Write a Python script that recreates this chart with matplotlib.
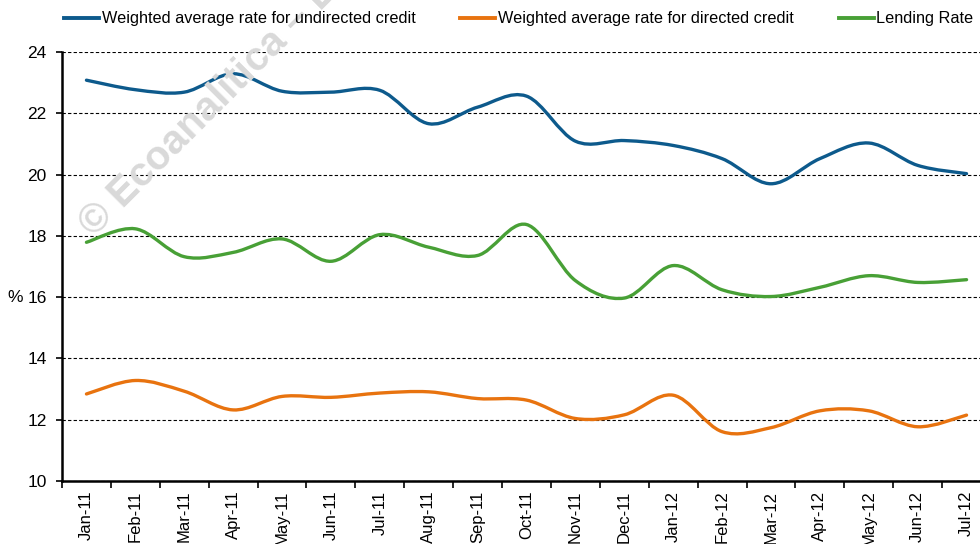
import numpy as np
import matplotlib
matplotlib.use('Agg')
import matplotlib.pyplot as plt
from matplotlib.path import Path
from matplotlib.patches import PathPatch
from matplotlib.lines import Line2D

plt.rcParams['font.family'] = ['Liberation Sans', 'DejaVu Sans']

# ── Data ─────────────────────────────────────────────────────────────────
months = ['Jan-11', 'Feb-11', 'Mar-11', 'Apr-11', 'May-11', 'Jun-11', 'Jul-11',
          'Aug-11', 'Sep-11', 'Oct-11', 'Nov-11', 'Dec-11', 'Jan-12', 'Feb-12',
          'Mar-12', 'Apr-12', 'May-12', 'Jun-12', 'Jul-12']

undirected = [23.08, 22.77, 22.69, 23.29, 22.72, 22.69, 22.75, 21.66, 22.20,
              22.56, 21.09, 21.11, 20.95, 20.52, 19.70, 20.52, 21.03, 20.30, 20.03]
directed = [12.84, 13.28, 12.93, 12.32, 12.76, 12.73, 12.87, 12.91, 12.69,
            12.64, 12.04, 12.16, 12.80, 11.61, 11.74, 12.29, 12.29, 11.77, 12.15]
lending = [17.79, 18.23, 17.32, 17.46, 17.90, 17.17, 18.04, 17.63, 17.36,
           18.37, 16.54, 15.97, 17.03, 16.24, 16.02, 16.32, 16.70, 16.48, 16.57]

series = [
    ('Weighted average rate for undirected credit', undirected, '#0d5a8c'),
    ('Weighted average rate for directed credit', directed, '#e8730f'),
    ('Lending Rate', lending, '#48a036'),
]


def smooth_path(xs, ys):
    # Excel-style smoothed line: cubic Bezier through every point
    p = np.column_stack([xs, ys]).astype(float)
    n = len(p)
    verts = [p[0]]
    codes = [Path.MOVETO]
    for i in range(n - 1):
        p0 = p[i - 1] if i > 0 else p[i]
        p3 = p[i + 2] if i + 2 < n else p[i + 1]
        c1 = p[i] + (p[i + 1] - p0) / 6.0
        c2 = p[i + 1] - (p3 - p[i]) / 6.0
        verts += [c1, c2, p[i + 1]]
        codes += [Path.CURVE4] * 3
    return Path(verts, codes)


W, H = 980, 544
fig = plt.figure(figsize=(W / 100, H / 100), dpi=100)
ax = fig.add_axes([62 / W, 1 - 481 / H, (991 - 62) / W, (481 - 52) / H])

x = np.arange(len(months)) + 0.5

# watermark behind the lines (cut off at the top, as in the original)
fig.text(94 / W, 1 - 238 / H, '\u00a9 Ecoanalitica \u2013 Derechos Reservados',
         rotation=45, rotation_mode='anchor', ha='left', va='baseline',
         fontsize=29, fontweight='bold', color='#d9d9d9', zorder=0)

for name, vals, col in series:
    ax.add_patch(PathPatch(smooth_path(x, vals), facecolor='none',
                           edgecolor=col, lw=2.4, capstyle='round', zorder=3))

ax.set_xlim(0, len(months))
ax.set_ylim(10, 24)
ax.patch.set_alpha(0)

ax.set_yticks(np.arange(10, 25, 2))
ax.grid(axis='y', color='black', linestyle=(0, (3, 2)), linewidth=0.8)
ax.set_axisbelow(True)

ax.set_xticks(np.arange(len(months) + 1))
ax.set_xticklabels([])
ax.set_xticks(x, minor=True)
ax.set_xticklabels(months, minor=True, rotation=90, fontsize=12)
ax.tick_params(axis='x', which='major', length=5, width=1.2, direction='out')
ax.tick_params(axis='x', which='minor', length=0, pad=7)
ax.tick_params(axis='y', length=4, width=1.2, direction='out', pad=7, labelsize=12.5)

for s in ['top', 'right']:
    ax.spines[s].set_visible(False)
for s in ['left', 'bottom']:
    ax.spines[s].set_linewidth(1.8)
    ax.spines[s].set_color('black')

fig.text(15 / W, 1 - 297 / H, '%', ha='center', va='center', fontsize=12.5)

handles = [Line2D([], [], color=col, lw=2.8) for _, _, col in series]
fig.legend(handles, [s[0] for s in series], loc='center left',
           bbox_to_anchor=(64 / W, 1 - 19 / H), ncol=3, frameon=False,
           fontsize=11.7, handlelength=2.15, handletextpad=0.18,
           columnspacing=2.75, borderpad=0, borderaxespad=0)

fig.savefig('out.png', dpi=100)
